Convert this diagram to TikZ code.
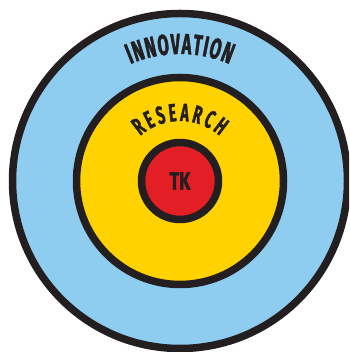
\documentclass[tikz,border=0pt]{standalone}
\usepackage{fontspec}
\usetikzlibrary{decorations.text}
\newfontfamily\ringfont[FakeStretch=0.56, FakeBold=1.4]{Fira Sans}
\newfontfamily\tkfont[FakeStretch=0.70, FakeBold=1.4]{Fira Sans}
\definecolor{cblue}{RGB}{143,205,240}
\definecolor{cyellow}{RGB}{255,210,0}
\definecolor{cred}{RGB}{227,30,36}
\definecolor{cink}{RGB}{35,31,32}

\begin{document}
\begin{tikzpicture}[x=1pt, y=1pt,
    ring/.style={circle, draw=cink, line width=7.5pt, inner sep=0pt},
    bend/.style n args={3}{font=\ringfont\bfseries\fontsize{#2}{#2}\selectfont,
                 decorate, decoration={text effects along path,
                 text={#1}, text align=center,
                 text effects/.cd, text along path,
                 characters={text=cink, inner xsep=#3, inner ysep=0pt,
                   font=\ringfont\bfseries\fontsize{#2}{#2}\selectfont}}}
  ]
  \useasboundingbox (0,0) rectangle (349,352);
  \clip (0,0) rectangle (349,352);

  % Innovation
  \node[ring, fill=cblue, minimum size=335pt] (innov) at (180,171) {};
  \path[bend={INNOVATION}{29}{0.55pt}]
    (innov.center) ++(155:127) arc[start angle=155, end angle=25, radius=127];

  % Research
  \node[ring, fill=cyellow, minimum size=207pt] (res) at (innov.center) {};
  \path[bend={RESEARCH}{25}{1.5pt}]
    (res.center) ++(150:60) arc[start angle=150, end angle=30, radius=60];

  % TK
  \node[ring, fill=cred, minimum size=77pt, text=cink,
        font=\tkfont\bfseries\fontsize{25}{25}\selectfont] (tk) at (innov.center) {TK};
\end{tikzpicture}
\end{document}
